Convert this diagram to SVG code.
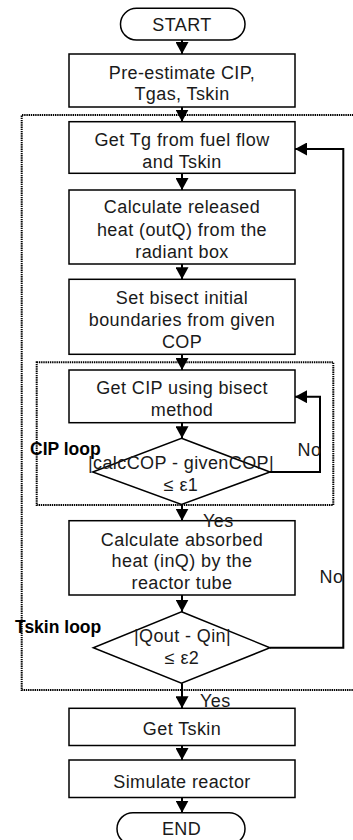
<svg xmlns="http://www.w3.org/2000/svg" width="353" height="840" viewBox="0 0 353 840">
<defs>
<style>
.box{fill:#fff;stroke:#000;stroke-width:1.5}
.t{font-family:"Liberation Sans",Arial,sans-serif;font-size:18px;fill:#1a1a1a;text-anchor:middle;letter-spacing:0.4px}
.lbl{font-family:"Liberation Sans",Arial,sans-serif;font-size:18px;fill:#1a1a1a;letter-spacing:0.4px}
.loop{font-family:"Liberation Sans",Arial,sans-serif;font-size:17.5px;font-weight:bold;fill:#000}
.c{fill:none;stroke:#000;stroke-width:2}
.dot{fill:none;stroke:#000;stroke-width:2;stroke-dasharray:1.4 0.8}
</style>
<marker id="ah" markerUnits="userSpaceOnUse" markerWidth="13" markerHeight="13" refX="12" refY="6.5" orient="auto">
<path d="M0,0 L12,6.5 L0,13 z" fill="#000"/>
</marker>
</defs>
<g id="loops">
<path class="dot" d="M360,115 H21.7 V690 H360"/>
<rect class="dot" x="36.7" y="362.3" width="296.6" height="142.7"/>
</g>
<g id="start">
<rect class="box" x="120.5" y="8.3" width="124.5" height="31.7" rx="16" ry="15.8"/>
<text class="t" x="182" y="31">START</text>
</g>
<g id="n1">
<rect class="box" x="69" y="54" width="226" height="53"/>
<text class="t" x="182" y="79">Pre-estimate CIP,</text>
<text class="t" x="182" y="100">Tgas, Tskin</text>
</g>
<g id="n2">
<rect class="box" x="69" y="121.7" width="226" height="51.6"/>
<text class="t" x="182" y="145.7">Get Tg from fuel flow</text>
<text class="t" x="182" y="167.7">and Tskin</text>
</g>
<g id="n3">
<rect class="box" x="69" y="190" width="226" height="74"/>
<text class="t" x="182" y="213">Calculate released</text>
<text class="t" x="182" y="235.5">heat (outQ) from the</text>
<text class="t" x="182" y="258">radiant box</text>
</g>
<g id="n4">
<rect class="box" x="69" y="279.3" width="226" height="75"/>
<text class="t" x="182" y="303.8">Set bisect initial</text>
<text class="t" x="182" y="325.8">boundaries from given</text>
<text class="t" x="182" y="347.8">COP</text>
</g>
<g id="n5">
<rect class="box" x="69" y="370" width="226" height="52.7"/>
<text class="t" x="182" y="394.3">Get CIP using bisect</text>
<text class="t" x="182" y="416.3">method</text>
</g>
<g id="d1">
<polygon class="box" points="181.5,438.3 270,472 181.5,504.5 92.7,472"/>
<text class="t" x="181" y="469.3">|calcCOP - givenCOP|</text>
<text class="t" x="181" y="491">≤ ε1</text>
</g>
<g id="n6">
<rect class="box" x="69" y="520.7" width="226" height="74.3"/>
<text class="t" x="182" y="545.5">Calculate absorbed</text>
<text class="t" x="182" y="567.3">heat (inQ) by the</text>
<text class="t" x="182" y="589">reactor tube</text>
</g>
<g id="d2">
<polygon class="box" points="181.5,611.7 270,647.7 181.5,683.3 93.3,647.7"/>
<text class="t" x="182.5" y="642">|Qout - Qin|</text>
<text class="t" x="182" y="664">≤ ε2</text>
</g>
<g id="n7">
<rect class="box" x="69" y="708.3" width="226" height="37.2"/>
<text class="t" x="182" y="735">Get Tskin</text>
</g>
<g id="n8">
<rect class="box" x="69" y="760" width="226" height="37.5"/>
<text class="t" x="182" y="788">Simulate reactor</text>
</g>
<g id="end">
<rect class="box" x="117" y="812.7" width="128" height="32" rx="16" ry="16"/>
<text class="t" x="181.5" y="835">END</text>
</g>
<g id="connectors">
<path class="c" marker-end="url(#ah)" d="M182,40 V54"/>
<path class="c" marker-end="url(#ah)" d="M182,107 V121.7"/>
<path class="c" marker-end="url(#ah)" d="M182,173.3 V190"/>
<path class="c" marker-end="url(#ah)" d="M182,264 V279.3"/>
<path class="c" marker-end="url(#ah)" d="M182,354.3 V370"/>
<path class="c" marker-end="url(#ah)" d="M182,422.7 V438.3"/>
<path class="c" marker-end="url(#ah)" d="M182,504.5 V520.7"/>
<path class="c" marker-end="url(#ah)" d="M182,595 V611.7"/>
<path class="c" marker-end="url(#ah)" d="M182,683.3 V708.3"/>
<path class="c" marker-end="url(#ah)" d="M182,745.5 V760"/>
<path class="c" marker-end="url(#ah)" d="M182,797.5 V812.7"/>
<path class="c" marker-end="url(#ah)" d="M270,472 H320 V396.7 H295"/>
<path class="c" marker-end="url(#ah)" d="M270,647.7 H343.3 V149 H295"/>
</g>
<g id="labels">
<text class="loop" x="30" y="455">CIP loop</text>
<text class="loop" x="15" y="633.3">Tskin loop</text>
<text class="lbl" x="297.5" y="455.7">No</text>
<text class="lbl" x="319.5" y="583">No</text>
<text class="lbl" x="203" y="526.5">Yes</text>
<text class="lbl" x="200" y="706.5">Yes</text>
</g>
</svg>
